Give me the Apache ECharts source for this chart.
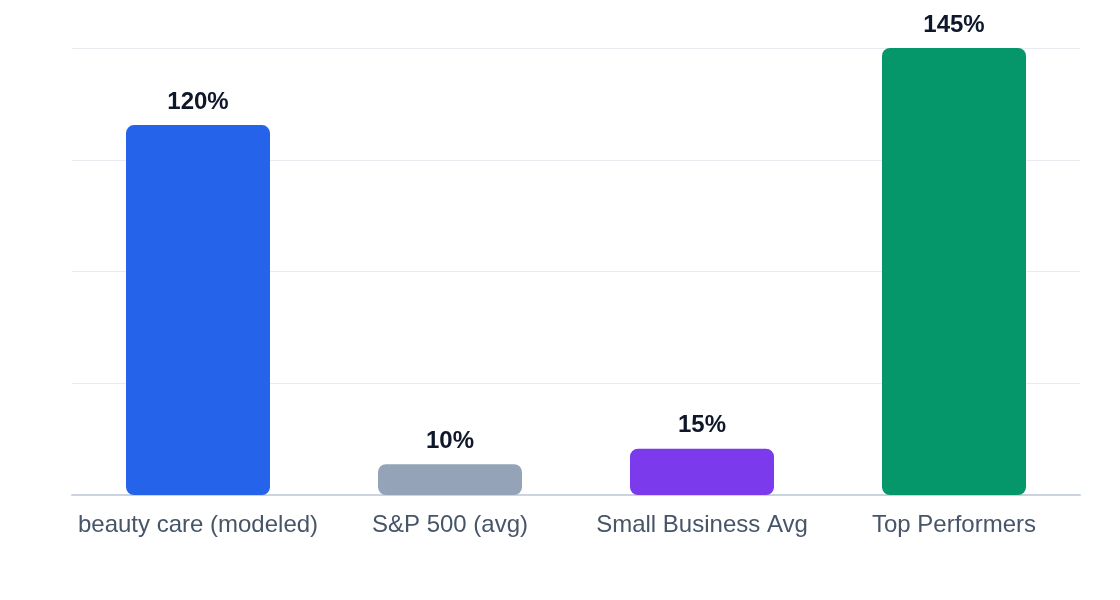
<!DOCTYPE html>
<html>
<head>
<meta charset="utf-8">
<title>Returns comparison</title>
<script src="https://cdn.jsdelivr.net/npm/echarts@6/dist/echarts.min.js"></script>
<style>
  html, body { margin: 0; padding: 0; background: #fff; }
  #chart { width: 1120px; height: 600px; }
</style>
</head>
<body>
<div id="chart"></div>
<script>
const categories = ['beauty care (modeled)', 'S&P 500 (avg)', 'Small Business Avg', 'Top Performers'];
const values = [120, 10, 15, 145];
const barColors = ['#2563eb', '#94a3b8', '#7c3aed', '#059669'];

const myChart = echarts.init(document.getElementById('chart'));
const option = {
    animation: false,
    grid: { left: 72, right: 40, top: 48, bottom: 105 },
    xAxis: {
        type: 'category',
        data: categories,
        axisLine: { lineStyle: { color: '#cbd5e1', width: 2 } },
        axisTick: { show: false },
        axisLabel: {
            interval: 0,
            color: '#475569',
            fontSize: 24,
            fontFamily: 'Liberation Sans, Arial, sans-serif',
            margin: 18
        }
    },
    yAxis: {
        type: 'value',
        min: 0,
        max: 145,
        interval: 36.25,
        axisLabel: { show: false },
        axisLine: { show: false },
        axisTick: { show: false },
        splitLine: { lineStyle: { color: '#e8ecf1', width: 1 } }
    },
    series: [
        {
            type: 'bar',
            barWidth: 144,
            data: values.map((v, i) => ({
                value: v,
                itemStyle: { color: barColors[i], borderRadius: 8 }
            })),
            label: {
                show: true,
                position: 'top',
                distance: 11,
                formatter: '{c}%',
                color: '#0f172a',
                fontSize: 24,
                fontWeight: 'bold',
                fontFamily: 'Liberation Sans, Arial, sans-serif'
            }
        }
    ]
};
myChart.setOption(option);
</script>
</body>
</html>
